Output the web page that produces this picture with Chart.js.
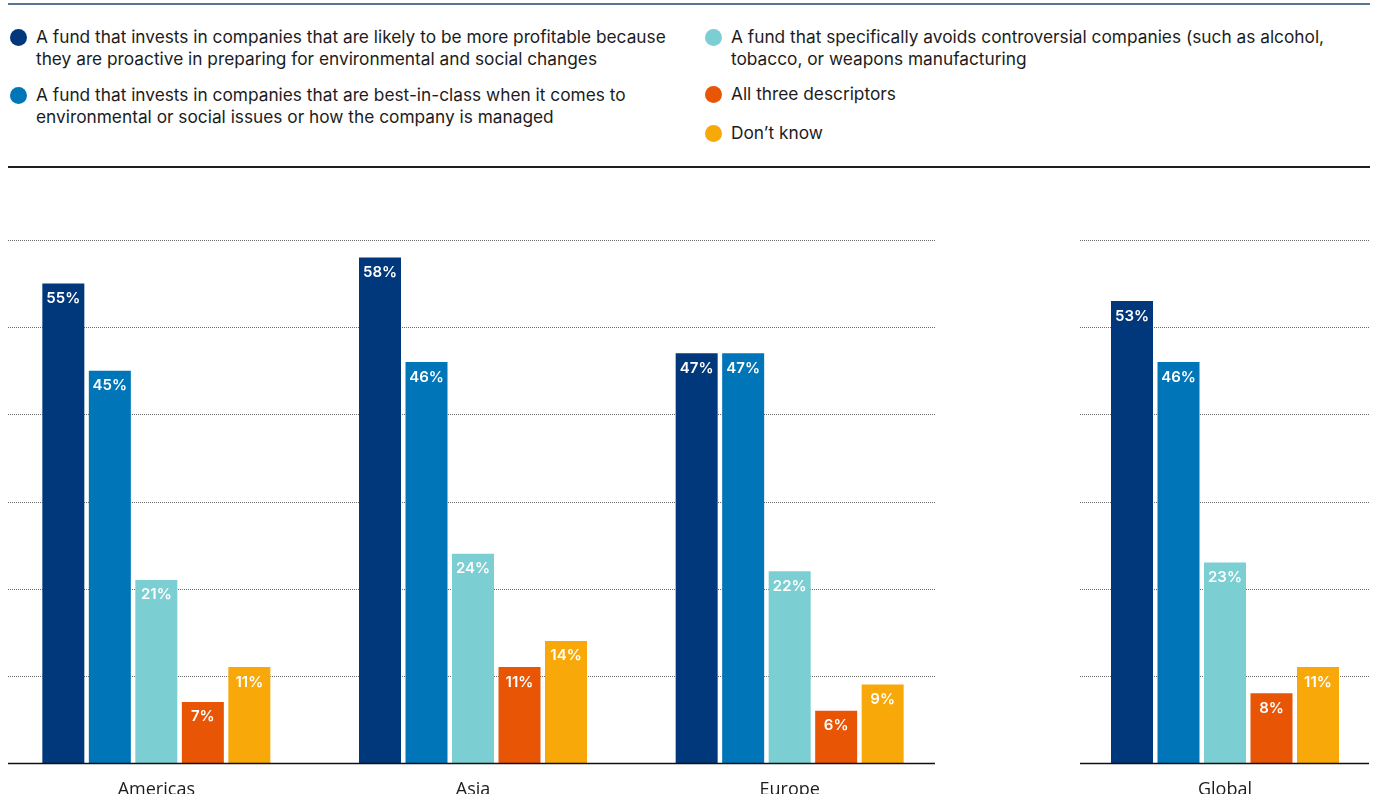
<!DOCTYPE html>
<html>
<head>
<meta charset="utf-8">
<script src="https://cdn.jsdelivr.net/npm/chart.js@4.4.1/dist/chart.umd.min.js"></script>
<style>
  html, body { margin: 0; padding: 0; width: 1383px; height: 794px; overflow: hidden; background: #fff; }
  .topline { position: absolute; left: 8px; top: 3px; width: 1362px; height: 2px; background: #5b7490; }
  .rule { position: absolute; left: 8px; top: 166px; width: 1362px; height: 2px; background: #1e1e1e; }
  .item { position: absolute; font-family: Inter, Roboto, sans-serif; font-size: 17.3px; line-height: 22px; color: #1c1c1c; white-space: pre-line; }
  .dot { position: absolute; width: 17px; height: 17px; border-radius: 50%; }
  .wrap { position: absolute; }
</style>
</head>
<body>
<div class="topline"></div>
<div id="legend"></div>
<div class="rule"></div>
<div class="wrap" style="left:-2px; top:230px; width:950px; height:573px;"><canvas id="left"></canvas></div>
<div class="wrap" style="left:1080px; top:230px; width:290px; height:573px;"><canvas id="right"></canvas></div>
<script>
// ---- data ----
const regions = ['Americas', 'Asia', 'Europe', 'Global'];
const seriesNames = [
  'A fund that invests in companies that are likely to be more profitable because\nthey are proactive in preparing for environmental and social changes',
  'A fund that invests in companies that are best-in-class when it comes to\nenvironmental or social issues or how the company is managed',
  'A fund that specifically avoids controversial companies (such as alcohol,\ntobacco, or weapons manufacturing',
  'All three descriptors',
  'Don\u2019t know'
];
const proactive   = [55, 58, 47, 53];
const bestInClass = [45, 46, 47, 46];
const avoids      = [21, 24, 22, 23];
const allThree    = [7, 11, 6, 8];
const dontKnow    = [11, 14, 9, 11];
const yTicks = [0, 10, 20, 30, 40, 50, 60];

const colors = ['#00387b', '#0075b8', '#7bcfd2', '#e85505', '#f8a808'];
const allSeries = [proactive, bestInClass, avoids, allThree, dontKnow];

// ---- legend (HTML) ----
const legendPos = [
  {dx: 18, tx: 36, y: 26},
  {dx: 18, tx: 36, y: 84},
  {dx: 713, tx: 731, y: 26},
  {dx: 713, tx: 731, y: 83},
  {dx: 713, tx: 731, y: 122}
];
const legend = document.getElementById('legend');
seriesNames.forEach((name, i) => {
  const p = legendPos[i];
  const d = document.createElement('div');
  d.className = 'dot';
  d.style.left = (p.dx - 8.5) + 'px';
  d.style.top = (p.y + 11 - 8.5) + 'px';
  d.style.background = colors[i];
  legend.appendChild(d);
  const t = document.createElement('div');
  t.className = 'item';
  t.style.left = p.tx + 'px';
  t.style.top = p.y + 'px';
  t.textContent = name;
  legend.appendChild(t);
});

// ---- chart helpers ----
function makePlugin(pageLeft, gx1, gx2, bx1, bx2) {
  return {
    id: 'deco',
    beforeDatasetsDraw(chart) {
      const ctx = chart.ctx, y = chart.scales.y;
      ctx.save();
      ctx.strokeStyle = '#6a6a6a';
      ctx.lineWidth = 1;
      ctx.setLineDash([1, 1]);
      yTicks.forEach(v => {
        if (v === 0) return;
        const py = Math.round(y.getPixelForValue(v)) + 0.5;
        ctx.beginPath();
        ctx.moveTo(gx1 - pageLeft, py);
        ctx.lineTo(gx2 - pageLeft, py);
        ctx.stroke();
      });
      ctx.restore();
    },
    afterDatasetsDraw(chart) {
      const ctx = chart.ctx, y = chart.scales.y;
      ctx.save();
      const py = Math.round(y.getPixelForValue(0)) + 0.5;
      ctx.strokeStyle = '#111';
      ctx.lineWidth = 1.5;
      ctx.beginPath();
      ctx.moveTo(bx1 - pageLeft, py);
      ctx.lineTo(bx2 - pageLeft, py);
      ctx.stroke();
      ctx.fillStyle = '#fff';
      ctx.font = '600 15px Inter, "Open Sans", sans-serif';
      ctx.textAlign = 'center';
      ctx.textBaseline = 'middle';
      chart.data.datasets.forEach((ds, di) => {
        const meta = chart.getDatasetMeta(di);
        meta.data.forEach((el, i) => {
          ctx.fillText(ds.data[i] + '%', el.x, el.y + 15);
        });
      });
      ctx.restore();
    }
  };
}

function makeChart(id, labels, from, to, catPct, plugin) {
  return new Chart(document.getElementById(id), {
    type: 'bar',
    data: {
      labels: labels,
      datasets: allSeries.map((s, i) => ({
        label: seriesNames[i],
        data: s.slice(from, to),
        backgroundColor: colors[i],
        borderWidth: 0,
        barPercentage: 42 / 46.5,
        categoryPercentage: catPct
      }))
    },
    options: {
      responsive: true,
      maintainAspectRatio: false,
      animation: false,
      events: [],
      layout: { padding: { top: 10, left: 0, right: 0, bottom: 0 } },
      plugins: { legend: { display: false }, tooltip: { enabled: false } },
      scales: {
        x: {
          grid: { display: false, drawTicks: false },
          border: { display: false },
          ticks: { color: '#1c1c1c', font: { family: '"Open Sans", sans-serif', size: 18 }, padding: 16, maxRotation: 0 },
          afterFit(scale) { scale.height = 40; }
        },
        y: {
          display: false,
          min: 0, max: 60,
          afterBuildTicks(scale) { scale.ticks = yTicks.map(v => ({ value: v })); }
        }
      }
    },
    plugins: [plugin]
  });
}

makeChart('left', regions.slice(0, 3), 0, 3, 232.5 / (950 / 3), makePlugin(-2, 8, 936, 8, 935));
makeChart('right', regions.slice(3), 3, 4, 232.5 / 290, makePlugin(1080, 1080, 1370, 1080, 1369));
</script>
</body>
</html>
